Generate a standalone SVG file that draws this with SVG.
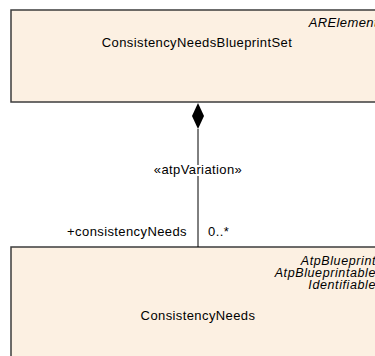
<svg xmlns="http://www.w3.org/2000/svg" width="375" height="356" viewBox="0 0 375 356">
<style>
.box{fill:#FCF0E2;stroke:#3c3c3c;stroke-width:1.5}
text{font-family:"Liberation Sans",Arial,sans-serif;font-size:13px;letter-spacing:0.4px;fill:#000}
.st{font-style:italic;text-anchor:end}
.sb{font-size:12.5px;letter-spacing:0.6px}
.c{text-anchor:middle}
.line{stroke:#000;stroke-width:1;fill:none}
</style>
<rect width="375" height="356" fill="#fff"/>
<g id="node-ConsistencyNeedsBlueprintSet">
<rect class="box" x="11" y="10" width="380" height="92"/>
<text class="st" x="378" y="27">ARElement</text>
<text class="c" x="197" y="47">ConsistencyNeedsBlueprintSet</text>
</g>
<g id="node-ConsistencyNeeds">
<rect class="box" x="11" y="247" width="380" height="120"/>
<text class="st sb" x="376" y="265">AtpBlueprint</text>
<text class="st sb" x="376" y="277">AtpBlueprintable</text>
<text class="st sb" x="376" y="289">Identifiable</text>
<text class="c" x="198" y="320">ConsistencyNeeds</text>
</g>
<g id="connectors">
<line class="line" x1="198" y1="129" x2="198" y2="247"/>
<polygon points="198,103 204,116 198,129 192,116" fill="#000"/>
<text class="c" x="198" y="174" fill="#000" stroke="#fff" stroke-width="4" paint-order="stroke">«atpVariation»</text>
<text x="187" y="236" text-anchor="end">+consistencyNeeds</text>
<text x="208" y="236">0..*</text>
</g>
</svg>
